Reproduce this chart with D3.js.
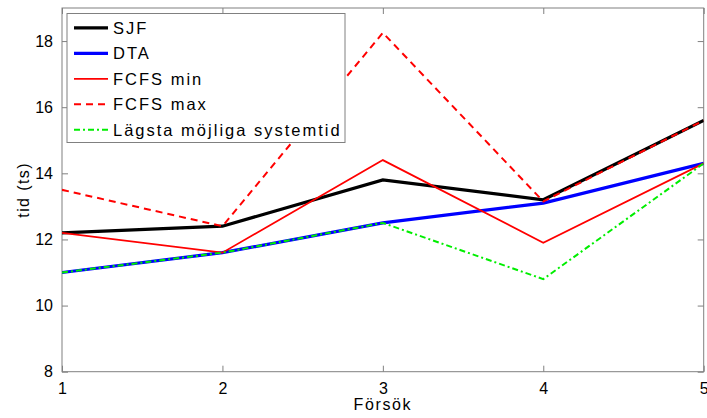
<!DOCTYPE html>
<html>
<head>
<meta charset="utf-8">
<script src="https://cdn.jsdelivr.net/npm/d3@7"></script>
<style>
  body { margin: 0; background: #fff; }
  svg text { font-family: "Liberation Sans", Arial, sans-serif; fill: #000; }
</style>
</head>
<body>
<svg id="chart" width="707" height="418"></svg>
<script>
const trials = [1, 2, 3, 4, 5];
const sjf = [12.2, 12.4, 13.8, 13.2, 15.6];
const dta = [11.0, 11.6, 12.5, 13.1, 14.3];
const fcfsMin = [12.2, 11.6, 14.4, 11.9, 14.3];
const fcfsMax = [13.5, 12.4, 18.25, 13.15, 15.6];
const lowest = [11.0, 11.6, 12.5, 10.8, 14.3];
const yTicks = [8, 10, 12, 14, 16, 18];
const seriesNames = ['SJF', 'DTA', 'FCFS min', 'FCFS max', 'Lägsta möjliga systemtid'];

const series = [
  { name: seriesNames[0], values: sjf, color: '#000000', width: 3.2, dash: null },
  { name: seriesNames[1], values: dta, color: '#0000ff', width: 3.2, dash: null },
  { name: seriesNames[2], values: fcfsMin, color: '#ff0000', width: 1.8, dash: null },
  { name: seriesNames[3], values: fcfsMax, color: '#ff0000', width: 2, dash: '7,5' },
  { name: seriesNames[4], values: lowest, color: '#00ee00', width: 2, dash: '6,3,2,3' }
];

const svg = d3.select('svg#chart'),
  margin = { left: 62, right: 3.3, top: 8, bottom: 46.3 },
  width = 707 - margin.left - margin.right,
  height = 418 - margin.top - margin.bottom,
  axisColor = '#808080';

const x = d3.scaleLinear().domain([1, 5]).range([0, width]);
const y = d3.scaleLinear().domain([8, 19]).range([height, 0]);

const g = svg.append('g').attr('transform', `translate(${margin.left},${margin.top})`);

svg.append('defs').append('clipPath').attr('id', 'clip')
  .append('rect').attr('width', width).attr('height', height);

// frame
g.append('rect')
  .attr('width', width).attr('height', height)
  .attr('fill', 'none').attr('stroke', axisColor).attr('stroke-width', 1);

// ticks (inward, mirrored)
const tickLen = 6;
const styleAxis = sel => {
  sel.select('.domain').remove();
  sel.selectAll('.tick line').attr('stroke', axisColor);
  sel.selectAll('.tick text').style('font-size', '16px').attr('fill', '#000');
};
g.append('g').attr('transform', `translate(0,${height})`)
  .call(d3.axisBottom(x).tickValues(trials).tickFormat(d3.format('d')).tickSizeInner(-tickLen).tickPadding(11))
  .call(styleAxis);
g.append('g')
  .call(d3.axisTop(x).tickValues(trials).tickFormat('').tickSizeInner(-tickLen))
  .call(styleAxis);
g.append('g')
  .call(d3.axisLeft(y).tickValues(yTicks).tickFormat(d3.format('d')).tickSizeInner(-tickLen).tickPadding(9))
  .call(styleAxis);
g.append('g').attr('transform', `translate(${width},0)`)
  .call(d3.axisRight(y).tickValues(yTicks).tickFormat('').tickSizeInner(-tickLen))
  .call(styleAxis);

// lines
const line = d3.line()
  .x((d, i) => x(trials[i]))
  .y(d => y(d));

g.append('g').attr('clip-path', 'url(#clip)')
  .selectAll('path').data(series).enter()
  .append('path')
    .attr('d', d => line(d.values))
    .attr('fill', 'none')
    .attr('stroke', d => d.color)
    .attr('stroke-width', d => d.width)
    .attr('stroke-dasharray', d => d.dash)
    .attr('stroke-linejoin', 'miter');

// axis labels
svg.append('text')
  .attr('x', margin.left + width / 2).attr('y', 410)
  .attr('text-anchor', 'middle')
  .style('font-size', '16px').style('letter-spacing', '1.6px')
  .text('Försök');
svg.append('text')
  .attr('transform', `translate(29,${margin.top + height / 2}) rotate(-90)`)
  .attr('text-anchor', 'middle')
  .style('font-size', '16px').style('letter-spacing', '1.4px')
  .text('tid (ts)');

// legend
const legend = svg.append('g').attr('transform', 'translate(67,13.5)');
legend.append('rect')
  .attr('width', 278).attr('height', 129)
  .attr('fill', '#fff').attr('stroke', axisColor).attr('stroke-width', 1);
const rows = legend.selectAll('g.row').data(series).enter()
  .append('g').attr('class', 'row')
  .attr('transform', (d, i) => `translate(0,${14.3 + i * 25.5})`);
rows.append('line')
  .attr('x1', 7).attr('x2', 41)
  .attr('stroke', d => d.color)
  .attr('stroke-width', d => d.width)
  .attr('stroke-dasharray', d => d.dash);
rows.append('text')
  .attr('x', 46).attr('dy', '0.36em')
  .style('font-size', '16.5px').style('letter-spacing', '2px')
  .text(d => d.name);
</script>
</body>
</html>
